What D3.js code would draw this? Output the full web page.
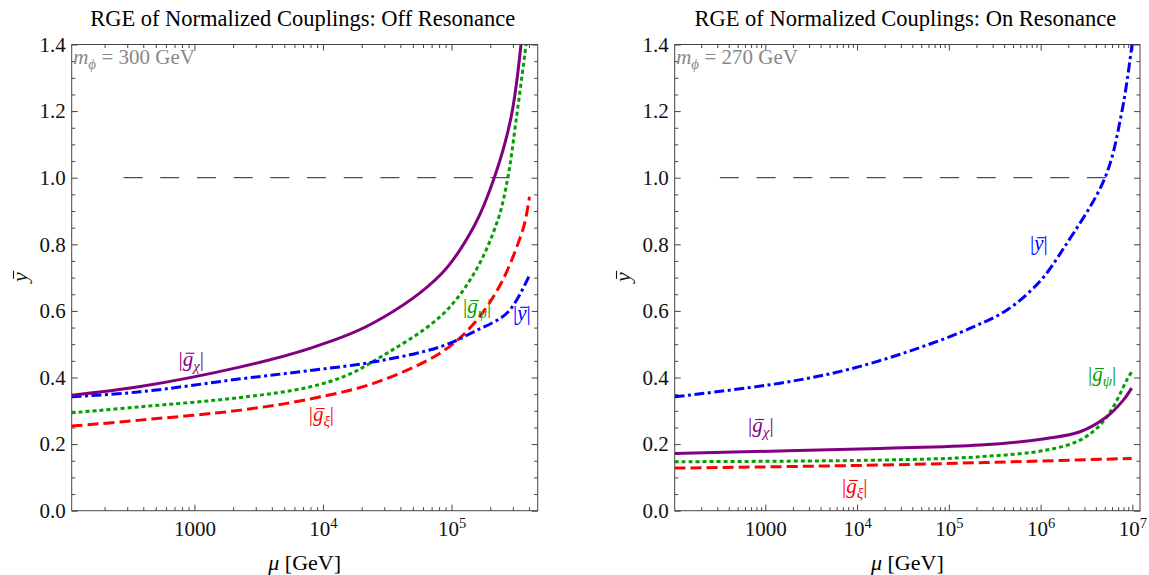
<!DOCTYPE html>
<html lang="en">
<head>
<meta charset="utf-8">
<title>RGE of Normalized Couplings</title>
<script src="https://d3js.org/d3.v7.min.js"></script>
<style>
  body { margin: 0; background: #fff; }
  svg text { font-family: "Liberation Serif", "Times New Roman", serif; }
  .frame { fill: none; stroke: #444; stroke-width: 1; }
</style>
</head>
<body>
<svg id="chart" width="1149" height="575"></svg>
<script>
// ---- data: [mu in GeV, normalized coupling] ----
// off resonance, m_phi = 300 GeV
let offChi = [[111,0.347],[379,0.373],[2290,0.432],[7570,0.485],[25000,0.565],[82800,0.71],[150000,0.855],[215000,1.0],[290000,1.18],[347000,1.4]];
let offY   = [[111,0.342],[379,0.357],[2290,0.396],[7570,0.42],[25000,0.447],[82800,0.493],[150000,0.538],[274000,0.596],[404000,0.708]];
let offPsi = [[111,0.294],[379,0.312],[2290,0.34],[7570,0.37],[15000,0.405],[25000,0.45],[82800,0.585],[150000,0.713],[229000,0.873],[274000,1.0],[318000,1.173],[380000,1.4]];
let offXi  = [[111,0.254],[379,0.272],[2290,0.302],[7570,0.334],[25000,0.383],[82800,0.475],[150000,0.563],[243000,0.683],[358000,0.843],[380000,0.883],[404000,0.943]];
let offLine = [[281,1],[285000,1]];

// on resonance, m_phi = 270 GeV
let onY   = [[103,0.342],[1450,0.383],[7730,0.423],[41000,0.483],[185000,0.552],[442000,0.605],[990000,0.69],[1800000,0.79],[5030000,1.0],[7700000,1.2],[9910000,1.4]];
let onChi = [[103,0.172],[17800,0.187],[219000,0.197],[1160000,0.217],[2690000,0.237],[5250000,0.282],[7960000,0.332],[9820000,0.368]];
let onPsi = [[103,0.147],[17800,0.152],[219000,0.162],[1160000,0.182],[2690000,0.212],[4440000,0.257],[6200000,0.312],[8670000,0.392],[9820000,0.417]];
let onXi  = [[103,0.128],[17800,0.137],[500000,0.147],[9820000,0.157]];
let onLine = [[320,1],[7000000,1]];

// axes
let offDomain = [111, 468000];
let onDomain = [103, 12100000];
let offDecades = [1000, 1e4, 1e5];
let onDecades = [1000, 1e4, 1e5, 1e6, 1e7];
let decadeLabels = {1000: ["1000", ""], 10000: ["10", "4"], 100000: ["10", "5"], 1000000: ["10", "6"], 10000000: ["10", "7"]};
let yTickValues = [0, 0.2, 0.4, 0.6, 0.8, 1.0, 1.2, 1.4];
let yMinorValues = [0.05,0.1,0.15,0.25,0.3,0.35,0.45,0.5,0.55,0.65,0.7,0.75,0.85,0.9,0.95,1.05,1.1,1.15,1.25,1.3,1.35];

let colors = {chi: "#800080", psi: "#00a000", xi: "#ff0000", y: "#0000ff"};
let dashes = {chi: null, psi: "4,3", xi: "11,5", y: "10,3.5,3,3.5"};

let panels = [
  {
    title: "RGE of Normalized Couplings: Off Resonance", mass: "300",
    domain: offDomain, decades: offDecades, x0: 71.7, x1: 537.7,
    series: [["xi", offXi], ["psi", offPsi], ["y", offY], ["chi", offChi]],
    hline: offLine,
    labels: [["chi", 751, 0.435], ["xi", 7740, 0.269], ["psi", 122700, 0.593], ["y", 301000, 0.573]]
  },
  {
    title: "RGE of Normalized Couplings: On Resonance", mass: "270",
    domain: onDomain, decades: onDecades, x0: 674.7, x1: 1140,
    series: [["xi", onXi], ["psi", onPsi], ["chi", onChi], ["y", onY]],
    hline: onLine,
    labels: [["chi", 649, 0.236], ["xi", 6860, 0.053], ["psi", 3280000, 0.389], ["y", 766000, 0.782]]
  }
];

let subs = {chi: "χ", psi: "ψ", xi: "ξ"};
let serif = "Liberation Serif, Times New Roman, serif";

let svg = d3.select("#chart");
let yScale = d3.scaleLinear().domain([0, 1.4]).range([510.7, 44.5]);
let yTop = yScale(1.4), yBot = yScale(0);

function minorTicks(domain) {
  let out = [];
  for (let e = 1; e <= 8; e++) {
    for (let k = 2; k <= 9; k++) {
      let v = k * Math.pow(10, e);
      if (v > domain[0] && v < domain[1]) out.push(v);
    }
  }
  return out;
}

// bar over one character of a text element (baseline at y = base)
function overbar(parent, text, idx, base, fs, color) {
  let ext = text.node().getExtentOfChar(idx);
  parent.append("line")
    .attr("x1", ext.x + 0.14 * fs).attr("x2", ext.x + ext.width + 0.06 * fs)
    .attr("y1", base - 0.6 * fs).attr("y2", base - 0.6 * fs)
    .attr("stroke", color).attr("stroke-width", 1.1);
}

panels.forEach((p, i) => {
  let x = d3.scaleLog().domain(p.domain).range([p.x0, p.x1]);
  let g = svg.append("g");
  let cx = (p.x0 + p.x1) / 2;

  svg.append("clipPath").attr("id", "clip" + i)
    .append("rect")
    .attr("x", p.x0).attr("y", yTop)
    .attr("width", p.x1 - p.x0).attr("height", yBot - yTop);

  // title
  g.append("text")
    .attr("x", cx - 2).attr("y", 26)
    .attr("text-anchor", "middle")
    .attr("font-size", 22.5)
    .text(p.title);

  let styleAxis = sel => {
    sel.select(".domain").remove();
    sel.style("color", "#444");
    sel.attr("font-family", serif).attr("font-size", 21);
  };

  // frame ticks
  let gxb = g.append("g").attr("transform", `translate(0,${yBot})`)
    .call(d3.axisBottom(x).tickValues(p.decades).tickSize(-6).tickPadding(10).tickFormat(""));
  styleAxis(gxb);
  gxb.selectAll(".tick text").each(function(d) {
    let lab = decadeLabels[d];
    let t = d3.select(this).attr("fill", "#111");
    t.append("tspan").text(lab[0]);
    if (lab[1]) t.append("tspan").attr("dy", -8).attr("font-size", 14.5).text(lab[1]);
  });
  g.append("g").attr("transform", `translate(0,${yBot})`)
    .call(d3.axisBottom(x).tickValues(minorTicks(p.domain)).tickSize(-3.5).tickFormat(""))
    .call(styleAxis);
  g.append("g").attr("transform", `translate(0,${yTop})`)
    .call(d3.axisTop(x).tickValues(p.decades).tickSize(-6).tickFormat(""))
    .call(styleAxis);
  g.append("g").attr("transform", `translate(0,${yTop})`)
    .call(d3.axisTop(x).tickValues(minorTicks(p.domain)).tickSize(-3.5).tickFormat(""))
    .call(styleAxis);

  let gyl = g.append("g").attr("transform", `translate(${p.x0},0)`)
    .call(d3.axisLeft(yScale).tickValues(yTickValues).tickSize(-6).tickPadding(6).tickFormat(d3.format(".1f")));
  styleAxis(gyl);
  gyl.selectAll(".tick text").attr("fill", "#111");
  g.append("g").attr("transform", `translate(${p.x0},0)`)
    .call(d3.axisLeft(yScale).tickValues(yMinorValues).tickSize(-3.5).tickFormat(""))
    .call(styleAxis);
  g.append("g").attr("transform", `translate(${p.x1},0)`)
    .call(d3.axisRight(yScale).tickValues(yTickValues).tickSize(-6).tickFormat(""))
    .call(styleAxis);
  g.append("g").attr("transform", `translate(${p.x1},0)`)
    .call(d3.axisRight(yScale).tickValues(yMinorValues).tickSize(-3.5).tickFormat(""))
    .call(styleAxis);

  g.append("rect").attr("class", "frame")
    .attr("x", p.x0).attr("y", yTop)
    .attr("width", p.x1 - p.x0).attr("height", yBot - yTop);

  // axis titles
  let xt = g.append("text").attr("x", cx).attr("y", 570)
    .attr("text-anchor", "middle").attr("font-size", 22);
  xt.append("tspan").attr("font-style", "italic").text("μ");
  xt.append("tspan").text(" [GeV]");

  let ylg = g.append("g").attr("transform", `translate(${p.x0 - 45},277) rotate(-90)`);
  let yl = ylg.append("text").attr("x", 0).attr("y", 0)
    .attr("text-anchor", "middle").attr("font-size", 22).attr("font-style", "italic")
    .attr("fill", "#111").text("y");
  overbar(ylg, yl, 0, 0, 22, "#111");

  // mass annotation
  let mt = g.append("text").attr("x", p.x0 + 1.5).attr("y", 64)
    .attr("font-size", 21).attr("fill", "#888");
  mt.append("tspan").attr("font-style", "italic").text("m");
  mt.append("tspan").attr("dy", 5).attr("font-size", 15).attr("font-style", "italic").text("ϕ");
  mt.append("tspan").attr("dy", -5).text(" = " + p.mass + " GeV");

  // curves
  let plot = g.append("g").attr("clip-path", `url(#clip${i})`);
  let line = d3.line()
    .x(d => x(d[0]))
    .y(d => yScale(d[1]))
    .curve(d3.curveCatmullRom.alpha(0.5));

  plot.append("path")
    .datum(p.hline)
    .attr("d", d3.line().x(d => x(d[0])).y(d => yScale(d[1])))
    .attr("fill", "none")
    .attr("stroke", "#222")
    .attr("stroke-width", 1)
    .attr("stroke-dasharray", "19,17.7");

  p.series.forEach(s => {
    plot.append("path")
      .datum(s[1])
      .attr("d", line)
      .attr("fill", "none")
      .attr("stroke", colors[s[0]])
      .attr("stroke-width", 3)
      .attr("stroke-dasharray", dashes[s[0]]);
  });

  // curve labels
  p.labels.forEach(l => {
    let key = l[0];
    let fs = 21;
    let bx = x(l[1]), by = yScale(l[2]);
    let t = g.append("text")
      .attr("x", bx).attr("y", by)
      .attr("font-size", fs)
      .attr("fill", colors[key]);
    t.append("tspan").text("|");
    if (key === "y") {
      t.append("tspan").attr("font-style", "italic").text("y");
      t.append("tspan").text("|");
    } else {
      t.append("tspan").attr("font-style", "italic").text("g");
      t.append("tspan").attr("dy", 5).attr("font-size", 15).attr("font-style", "italic").text(subs[key]);
      t.append("tspan").attr("dy", -5).text("|");
    }
    overbar(g, t, 1, by, fs, colors[key]);
  });
});
</script>
</body>
</html>
